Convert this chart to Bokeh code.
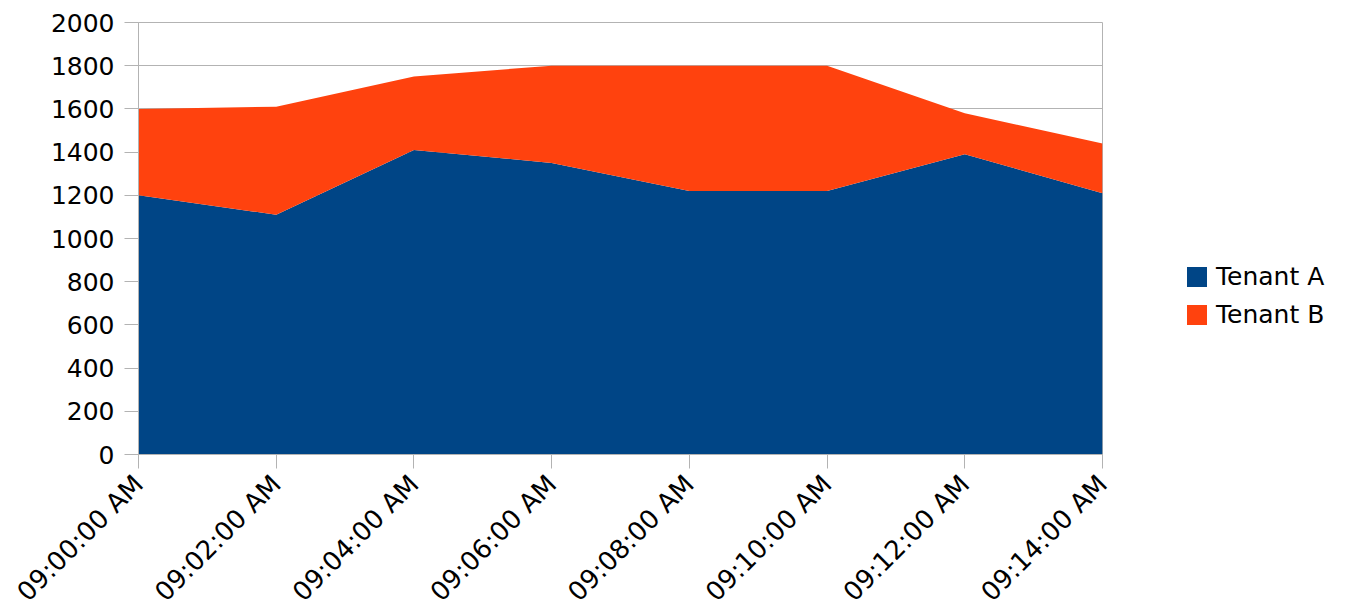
from math import pi
from bokeh.plotting import figure
from bokeh.models import Range1d, FixedTicker, Legend, LegendItem, ColumnDataSource
from bokeh.embed import file_html
from bokeh.resources import INLINE

# ---- data ----
times = ["09:00:00 AM", "09:02:00 AM", "09:04:00 AM", "09:06:00 AM",
         "09:08:00 AM", "09:10:00 AM", "09:12:00 AM", "09:14:00 AM"]
tenant_a = [1200, 1110, 1410, 1350, 1220, 1220, 1390, 1210]
tenant_b = [400, 500, 340, 450, 580, 580, 190, 230]
series_names = ["Tenant A", "Tenant B"]
series_colors = ["#004586", "#ff420e"]
y_ticks = [0, 200, 400, 600, 800, 1000, 1200, 1400, 1600, 1800, 2000]

x = list(range(len(times)))
src = ColumnDataSource(dict(x=x, a=tenant_a, b=tenant_b))

FONT = "DejaVu Sans"
GRID = "#b3b3b3"

p = figure(frame_width=964, frame_height=432,
           min_border_left=138, min_border_right=240, min_border_top=22, min_border_bottom=150,
           output_backend="svg", toolbar_location=None,
           x_range=Range1d(x[0], x[-1]), y_range=Range1d(y_ticks[0], y_ticks[-1]))

renderers = p.varea_stack(["a", "b"], x="x", source=src, color=series_colors)

p.outline_line_color = GRID
p.xgrid.grid_line_color = None
p.ygrid.grid_line_color = GRID
p.ygrid.grid_line_width = 1
p.background_fill_color = "white"
p.border_fill_color = "white"

for ax in (p.xaxis[0], p.yaxis[0]):
    ax.axis_line_color = GRID
    ax.major_tick_line_color = GRID
    ax.major_tick_out = 14
    ax.major_tick_in = 0
    ax.minor_tick_line_color = None
    ax.major_label_text_font = FONT
    ax.major_label_text_font_size = "25px"
    ax.major_label_text_color = "#000000"

p.yaxis.ticker = FixedTicker(ticks=y_ticks)
p.yaxis.major_label_standoff = 10
p.xaxis.ticker = FixedTicker(ticks=x)
p.xaxis.major_label_overrides = {i: t for i, t in zip(x, times)}
p.xaxis.major_label_orientation = pi / 4
p.xaxis.major_label_standoff = 11
p.xaxis.major_label_text_font_size = "26px"

legend = Legend(items=[LegendItem(label=n, renderers=[r]) for n, r in zip(series_names, renderers)],
                location=(82, 125), margin=0, padding=0, spacing=9,
                glyph_width=25, glyph_height=25, label_standoff=7,
                label_text_font=FONT, label_text_font_size="25px", label_text_color="#000000",
                border_line_alpha=0, background_fill_alpha=0)
p.add_layout(legend, "right")

open("out.html", "w").write(file_html(p, INLINE))
